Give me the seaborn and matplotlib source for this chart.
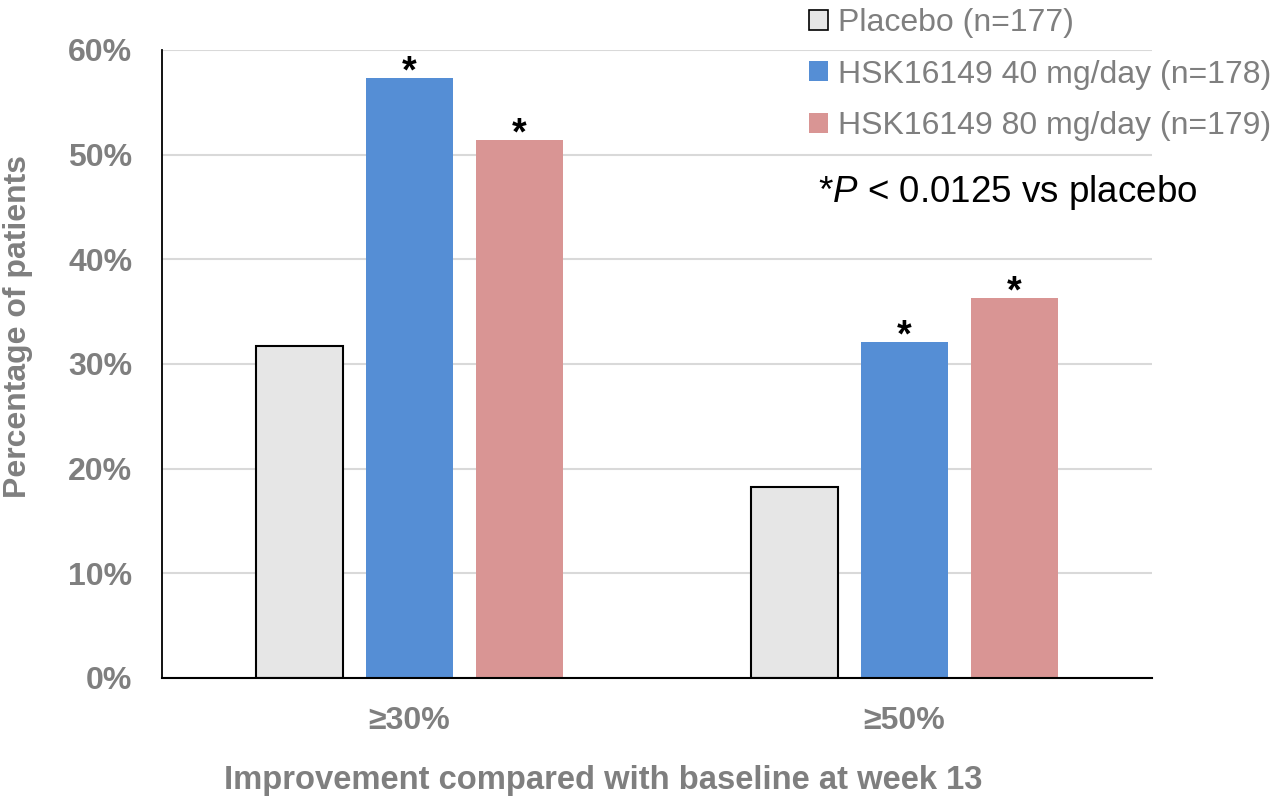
import matplotlib
matplotlib.use("Agg")
import matplotlib.pyplot as plt
from matplotlib.patches import Patch
import pandas as pd
import seaborn as sns

# values (% of patients)
categories = ["\u226530%", "\u226550%"]
groups = ["Placebo (n=177)", "HSK16149 40 mg/day (n=178)", "HSK16149 80 mg/day (n=179)"]
placebo = [31.7, 18.2]
hsk40 = [57.3, 32.1]
hsk80 = [51.4, 36.3]
significant = {groups[1]: [True, True], groups[2]: [True, True]}
yticks = [0, 10, 20, 30, 40, 50, 60]

colors = ["#e6e6e6", "#558ed5", "#d99594"]
gray = "#7f7f7f"

rows = []
for g, vals in zip(groups, [placebo, hsk40, hsk80]):
    for c, v in zip(categories, vals):
        rows.append({"category": c, "group": g, "value": v})
df = pd.DataFrame(rows)

sns.set_style("white")
plt.rcParams["font.family"] = ["Liberation Sans", "DejaVu Sans"]
plt.rcParams["mathtext.fontset"] = "custom"
plt.rcParams["mathtext.it"] = "Liberation Sans:italic"
plt.rcParams["mathtext.rm"] = "Liberation Sans"

fig = plt.figure(figsize=(12.81, 7.98), dpi=100)
ax = fig.add_axes([0.1261, 0.1504, 0.7732, 0.787])

sns.barplot(data=df, x="category", y="value", hue="group", hue_order=groups,
            order=categories, palette=colors, width=0.667, gap=0.21,
            ax=ax, legend=False, saturation=1)

# placebo bars get a black outline
for cont, g in zip(ax.containers, groups):
    for p in cont:
        if g == groups[0]:
            p.set_edgecolor("black")
            p.set_linewidth(1.5)
        else:
            p.set_edgecolor("none")

# asterisks over significant bars
for cont, g in zip(ax.containers, groups):
    if g not in significant:
        continue
    for p, sig in zip(cont, significant[g]):
        if sig:
            ax.annotate("*", (p.get_x() + p.get_width() / 2, p.get_height()),
                        xytext=(0, 4), textcoords="offset points",
                        ha="center", va="center", fontsize=27,
                        fontweight="bold", color="black")

ax.set_xlim(-0.5, 1.5)
ax.set_ylim(0, 60)
ax.set_yticks(yticks)
ax.set_yticklabels([f"{t}%" for t in yticks])
ax.yaxis.grid(True, color="#d9d9d9", linewidth=1.5)
ax.set_axisbelow(True)
for s in ["top", "right"]:
    ax.spines[s].set_visible(False)
ax.spines["left"].set_color("black")
ax.spines["left"].set_linewidth(1.3)
ax.spines["bottom"].set_color("black")
ax.spines["bottom"].set_linewidth(1.5)
ax.tick_params(axis="y", length=0, pad=21, labelsize=23, labelcolor=gray)
ax.tick_params(axis="x", length=0, pad=20, labelsize=23, labelcolor=gray)
for lab in ax.get_xticklabels() + ax.get_yticklabels():
    lab.set_fontweight("bold")

ax.set_xlabel("Improvement compared with baseline at week 13", fontsize=23.6,
              fontweight="bold", color=gray)
ax.xaxis.set_label_coords(0.4457, -0.138)
ax.set_ylabel("Percentage of patients", fontsize=23, fontweight="bold", color=gray)
ax.yaxis.set_label_coords(-0.1297, 0.559)

handles = [Patch(facecolor=colors[0], edgecolor="black", linewidth=1.2),
           Patch(facecolor=colors[1], edgecolor="none"),
           Patch(facecolor=colors[2], edgecolor="none")]
leg = fig.legend(handles, groups, loc="upper left",
                 bbox_to_anchor=(806 / 1281, 1 - 5 / 798),
                 frameon=False, fontsize=23, labelcolor=gray, handlelength=0.6,
                 handleheight=0.6, handletextpad=0.3, labelspacing=0.67,
                 borderpad=0.1, borderaxespad=0)

fig.text(818 / 1281, 1 - 193 / 798, "*$P$ < 0.0125 vs placebo", fontsize=26.5,
         color="black", ha="left", va="center")

fig.savefig("out.png", dpi=100)
